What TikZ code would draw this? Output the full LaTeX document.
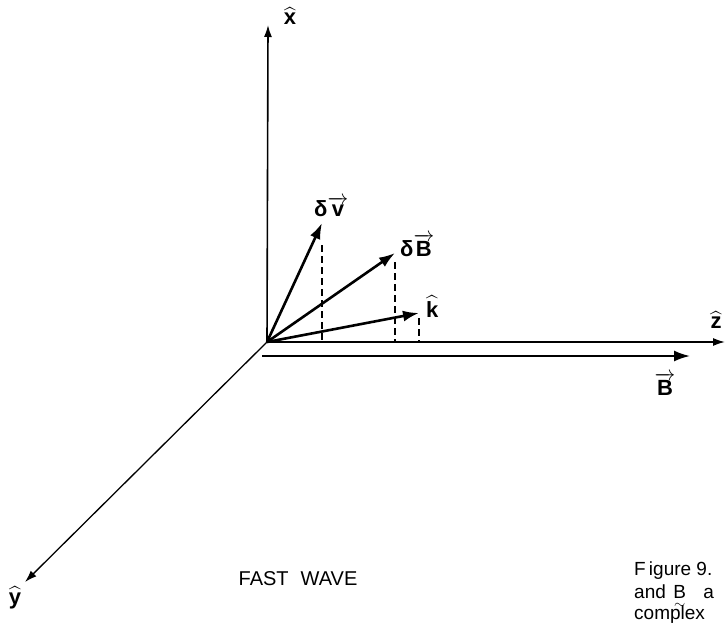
\documentclass[tikz,border=0pt]{standalone}
\usepackage{amsmath}
\usepackage{fontspec}
\setmainfont{Liberation Sans}
\usetikzlibrary{positioning,arrows.meta}

\begin{document}
\begin{tikzpicture}[
  x=1pt, y=-1pt,
  axis/.style={line width=1.6pt, -{Latex[length=12pt,width=8pt]}},
  vec/.style={line width=2.6pt, -{Latex[length=16pt,width=11pt]}},
  drop/.style={line width=1.3pt, dash pattern=on 7pt off 4pt},
  lbl/.style={font=\fontsize{22}{24}\selectfont\bfseries, inner sep=0pt},
  caption/.style={font=\fontsize{19}{21}\selectfont, inner sep=0pt, anchor=base west}
]
\useasboundingbox (0,0) rectangle (727,623);

% Origin and axis ends
\coordinate (O) at (267,342);
\coordinate (X) at (268,25);
\coordinate (Z) at (725,342);
\coordinate (Y) at (25,582);
\coordinate (B0) at (262,356);
\coordinate (B1) at (690,356);

% Vector tips
\coordinate (V) at (322,223);
\coordinate (DB) at (395,253);
\coordinate (K) at (419,313);

% Axes
\draw[axis] (O) -- (X);
\draw[axis] (O) -- (Z);
\draw[axis, line width=1.3pt] (O) -- (Y);
\draw[vec, line width=2pt] (B0) -- (B1);

% Perturbation vectors
\draw[vec] (O) -- (V);
\draw[vec] (O) -- (DB);
\draw[vec] (O) -- (K);

% Projections onto z
\draw[drop] ([yshift=-22pt]V) -- (V |- O);
\draw[drop] ([yshift=-9pt]DB) -- (DB |- O);
\draw[drop] ([yshift=-5pt]K) -- (K |- O);

% Axis labels
\node[lbl] (xlab) at (290,16) {$\widehat{\text{x}}$};
\node[lbl] (zlab) at (716,320) {$\widehat{\text{z}}$};
\node[lbl] (ylab) at (15,598) {$\widehat{\text{y}}$};
\node[lbl, below=17pt of B1, xshift=-25pt] (blab) {$\overrightarrow{\text{B}}$};

% Vector labels
\node[lbl, above right=6pt and -8pt of V] (vlab) {δ$\overrightarrow{\text{v}}$};
\node[lbl, right=5pt of DB, yshift=8pt] (dblab) {δ$\overrightarrow{\text{B}}$};
\node[lbl, right=7pt of K, yshift=6pt] (klab) {$\widehat{\text{k}}$};

% Titles
\node[font=\fontsize{20}{22}\selectfont] (title) at (298,579) {FAST\hspace{0.6em}WAVE};
\node[caption] (cap1) at (634,575) {F\,igure 9.};
\node[caption] (cap2) at (634,598) {and\hspace{0.4em}$\underset{\sim}{\text{B}}$\hspace{0.9em}a};
\node[caption] (cap3) at (634,619) {complex};
\end{tikzpicture}
\end{document}
